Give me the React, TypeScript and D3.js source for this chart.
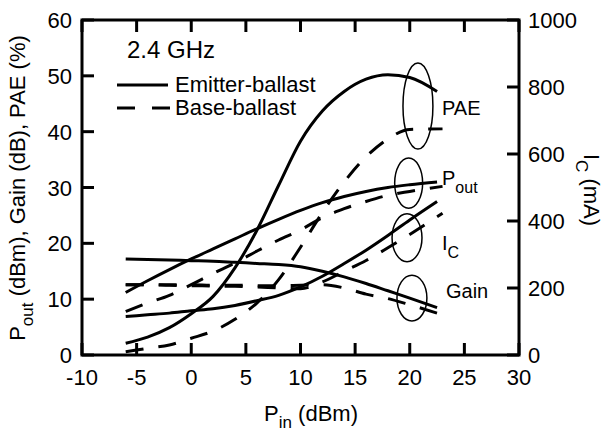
import React from "react";
import * as d3 from "d3";

// input power (dBm) sample points
const pinEmitter = [-6, -4, -2, 0, 2, 4, 6, 8, 10, 12, 14, 16, 18, 20, 22.5];
const pinBase = [-6, -4, -2, 0, 2, 4, 6, 8, 10, 12, 14, 16, 18, 20, 23];

// emitter-ballast (solid)
const paeEmitter = [2.1, 3.2, 4.9, 7.4, 10.5, 15.6, 22.3, 30.4, 38.3, 43.7, 47.2, 49.4, 50.2, 49.7, 47.2];
const poutEmitter = [11.2, 13.3, 15.3, 17.2, 19.0, 20.8, 22.6, 24.3, 25.9, 27.3, 28.4, 29.3, 30.0, 30.5, 31.0];
const gainEmitter = [17.2, 17.1, 17.0, 16.9, 16.8, 16.6, 16.4, 16.2, 15.8, 15.0, 14.0, 12.8, 11.5, 10.2, 8.5];
const icEmitter = [115, 120, 125, 132, 138, 148, 162, 178, 203, 235, 273, 313, 357, 403, 458];

// base-ballast (dashed)
const paeBase = [0.6, 1.2, 1.8, 3.0, 4.3, 6.4, 9.3, 13.5, 19.3, 25.5, 31.0, 35.5, 38.7, 40.4, 40.5];
const poutBase = [7.8, 9.3, 10.7, 12.6, 14.6, 16.5, 18.6, 20.6, 22.4, 24.6, 26.2, 27.5, 28.6, 29.3, 30.2];
const gainBase = [12.6, 12.6, 12.6, 12.6, 12.5, 12.5, 12.4, 12.4, 12.5, 12.6, 12.0, 10.9, 10.1, 9.0, 7.2];
const icBase = [210, 210, 208, 207, 206, 205, 203, 200, 198, 218, 250, 282, 320, 360, 423];

const xTicks = [-10, -5, 0, 5, 10, 15, 20, 25, 30];
const yLeftTicks = [0, 10, 20, 30, 40, 50, 60];
const yRightTicks = [0, 200, 400, 600, 800, 1000];

// ellipse groupings (pin, value units) and their labels
const groups = [
  { cx: 20.75, cy: 44.6, rx: 1.37, ry: 7.7, label: "PAE", sub: "", lx: 442, ly: 115 },
  { cx: 19.9, cy: 30.8, rx: 1.28, ry: 4.5, label: "P", sub: "out", lx: 442, ly: 185 },
  { cx: 19.75, cy: 21.0, rx: 1.37, ry: 4.3, label: "I", sub: "C", lx: 442, ly: 250 },
  { cx: 20.2, cy: 10.2, rx: 1.37, ry: 4.1, label: "Gain", sub: "", lx: 446, ly: 298 },
];

const W = 605;
const H = 432;
const m = { left: 82, right: 86, top: 20, bottom: 77 };
const font = "Arial, 'Liberation Sans', sans-serif";

const App = () => {
  const x = d3.scaleLinear().domain([-10, 30]).range([m.left, W - m.right]);
  const y = d3.scaleLinear().domain([0, 60]).range([H - m.bottom, m.top]);
  const yR = d3.scaleLinear().domain([0, 1000]).range([H - m.bottom, m.top]);

  const mk = (xs, ys, sc) =>
    d3.line().x((d, i) => x(xs[i])).y(d => sc(d)).curve(d3.curveMonotoneX)(ys);

  const solid = [
    mk(pinEmitter, paeEmitter, y),
    mk(pinEmitter, poutEmitter, y),
    mk(pinEmitter, gainEmitter, y),
    mk(pinEmitter, icEmitter, yR),
  ];
  const dashed = [
    mk(pinBase, paeBase, y),
    mk(pinBase, poutBase, y),
    mk(pinBase, gainBase, y),
    mk(pinBase, icBase, yR),
  ];

  const x0 = x(-10), x1 = x(30), y0 = y(0), y1 = y(60);
  const tk = 12;

  return (
    <div style={{ position: "absolute", left: 0, top: 0 }}>
      <svg width={W} height={H} style={{ display: "block" }} fontFamily={font}>
        <rect width={W} height={H} fill="white" />
        {/* curves */}
        {solid.map((d, i) => (
          <path key={"s" + i} d={d} fill="none" stroke="black" strokeWidth={3} />
        ))}
        {dashed.map((d, i) => (
          <path key={"d" + i} d={d} fill="none" stroke="black" strokeWidth={3} strokeDasharray="18,15" />
        ))}

        {/* ellipses + labels */}
        {groups.map((g, i) => {
          const rxp = x(g.cx + g.rx) - x(g.cx);
          const ryp = y(g.cy - g.ry) - y(g.cy);
          return (
            <g key={"g" + i}>
              <ellipse cx={x(g.cx)} cy={y(g.cy)} rx={rxp} ry={ryp} fill="none" stroke="black" strokeWidth={1.5} />
              <text x={g.lx} y={g.ly} fontSize={20}>
                {g.label}
                {g.sub && <tspan dy={8} fontSize={16}>{g.sub}</tspan>}
              </text>
            </g>
          );
        })}

        {/* ticks */}
        {xTicks.map(t => (
          <g key={"xt" + t}>
            <line x1={x(t)} x2={x(t)} y1={y0} y2={y0 - tk} stroke="black" strokeWidth={3} />
            <line x1={x(t)} x2={x(t)} y1={y1} y2={y1 + tk} stroke="black" strokeWidth={3} />
            <text x={x(t)} y={385} fontSize={22} textAnchor="middle">{t}</text>
          </g>
        ))}
        {yLeftTicks.map(t => (
          <g key={"yl" + t}>
            <line x1={x0} x2={x0 + tk} y1={y(t)} y2={y(t)} stroke="black" strokeWidth={3} />
            <text x={x0 - 10} y={y(t) + 8} fontSize={22} textAnchor="end">{t}</text>
          </g>
        ))}
        {yRightTicks.map(t => (
          <g key={"yr" + t}>
            <line x1={x1} x2={x1 - tk} y1={yR(t)} y2={yR(t)} stroke="black" strokeWidth={3} />
            <text x={x1 + 9} y={yR(t) + 8} fontSize={22}>{t}</text>
          </g>
        ))}

        {/* frame */}
        <rect x={x0} y={y1} width={x1 - x0} height={y0 - y1} fill="none" stroke="black" strokeWidth={3} />

        {/* legend */}
        <text x={127} y={58} fontSize={24}>2.4 GHz</text>
        <line x1={117} x2={168} y1={85} y2={85} stroke="black" strokeWidth={3} />
        <text x={175} y={92} fontSize={22}>Emitter-ballast</text>
        <line x1={117} x2={170} y1={108} y2={108} stroke="black" strokeWidth={3} strokeDasharray="18,17" />
        <text x={175} y={115} fontSize={22}>Base-ballast</text>

        {/* axis titles */}
        <text x={311} y={421} fontSize={22} textAnchor="middle">
          P<tspan dy={7} fontSize={17}>in</tspan>
          <tspan dy={-7}> (dBm)</tspan>
        </text>
        <text transform="translate(25,188) rotate(-90)" fontSize={22} textAnchor="middle">
          P<tspan dy={8} fontSize={17}>out</tspan>
          <tspan dy={-8}> (dBm), Gain (dB), PAE (%)</tspan>
        </text>
        <text transform="translate(584,190) rotate(90)" fontSize={22} textAnchor="middle">
          I<tspan dy={8} fontSize={17}>C</tspan>
          <tspan dy={-8}> (mA)</tspan>
        </text>
      </svg>
    </div>
  );
};

export default App;
